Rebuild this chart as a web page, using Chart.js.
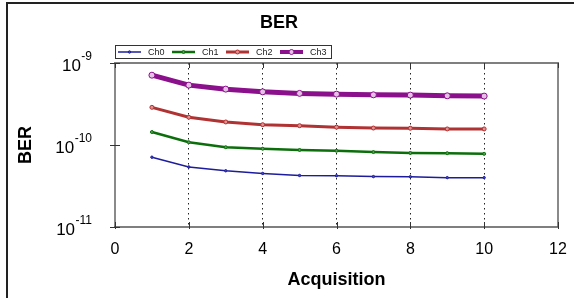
<!DOCTYPE html>
<html>
<head>
<meta charset="utf-8">
<script src="https://cdn.jsdelivr.net/npm/chart.js@4/dist/chart.umd.min.js"></script>
<style>
  html, body { margin: 0; padding: 0; background: #fff; }
  #wrap { width: 574px; height: 298px; position: relative; }
</style>
</head>
<body>
<div id="wrap"><canvas id="berChart" width="574" height="298"></canvas></div>
<script>
// valeurs
const acquisitions = [1, 2, 3, 4, 5, 6, 7, 8, 9, 10];
const seriesNames = ['Ch0', 'Ch1', 'Ch2', 'Ch3'];
const ch0 = [7.1e-11, 5.4e-11, 4.85e-11, 4.5e-11, 4.25e-11, 4.22e-11, 4.12e-11, 4.1e-11, 4.0e-11, 4.0e-11];
const ch1 = [1.44e-10, 1.08e-10, 9.4e-11, 9.0e-11, 8.7e-11, 8.5e-11, 8.2e-11, 8.0e-11, 7.95e-11, 7.8e-11];
const ch2 = [2.88e-10, 2.18e-10, 1.91e-10, 1.77e-10, 1.72e-10, 1.65e-10, 1.61e-10, 1.6e-10, 1.57e-10, 1.57e-10];
const ch3 = [7.1e-10, 5.37e-10, 4.8e-10, 4.45e-10, 4.26e-10, 4.17e-10, 4.09e-10, 4.06e-10, 3.98e-10, 3.95e-10];
const yTickExponents = [-9, -10, -11];

const FONT = '"Liberation Sans", Arial, sans-serif';

// style de chaque courbe
const styles = [
    { color: '#1c1c9c', width: 1.5, radius: 1.2, fill: '#4a4ac0' },
    { color: '#0b6e0b', width: 2.5, radius: 1.5, fill: '#5aa05a' },
    { color: '#b03232', width: 3, radius: 2, fill: '#e09090' },
    { color: '#8b108b', width: 5, radius: 3, fill: '#e6c0e6' }
];

function toPoints(values) {
    return values.map((v, i) => ({ x: acquisitions[i], y: v }));
}

const allSeries = [ch0, ch1, ch2, ch3];

// cadre, graduations, étiquettes 10^n et légende
const decorPlugin = {
    id: 'decor',
    afterDraw(chart) {
        const ctx = chart.ctx;
        const a = chart.chartArea;
        const xs = chart.scales.x;
        const ys = chart.scales.y;
        ctx.save();

        // cadre extérieur
        ctx.strokeStyle = '#222';
        ctx.lineWidth = 2;
        ctx.beginPath();
        ctx.moveTo(7, 298);
        ctx.lineTo(7, 3);
        ctx.lineTo(574, 3);
        ctx.stroke();

        // cadre de la zone de tracé
        ctx.lineWidth = 2;
        ctx.strokeStyle = '#8a8a8a';
        ctx.beginPath();
        ctx.moveTo(a.left, a.top); ctx.lineTo(a.left, a.bottom);
        ctx.moveTo(a.right, a.top); ctx.lineTo(a.right, a.bottom);
        ctx.stroke();
        ctx.strokeStyle = '#555';
        ctx.lineWidth = 1.5;
        ctx.beginPath();
        ctx.moveTo(a.left - 1, a.top); ctx.lineTo(a.right + 1, a.top);
        ctx.moveTo(a.left - 1, a.bottom); ctx.lineTo(a.right + 1, a.bottom);
        ctx.stroke();

        // petites graduations
        ctx.strokeStyle = '#333';
        ctx.lineWidth = 1;
        ctx.beginPath();
        xs.ticks.forEach(t => {
            const px = Math.round(xs.getPixelForValue(t.value)) + 0.5;
            ctx.moveTo(px, a.bottom - 5); ctx.lineTo(px, a.bottom + 2);
            ctx.moveTo(px, a.top); ctx.lineTo(px, a.top + 5);
        });
        yTickExponents.forEach(e => {
            const py = Math.round(ys.getPixelForValue(Math.pow(10, e))) + 0.5;
            ctx.moveTo(a.left - 5, py); ctx.lineTo(a.left + 5, py);
        });
        ctx.stroke();

        // étiquettes 10^n
        ctx.fillStyle = '#000';
        ctx.textAlign = 'right';
        ctx.textBaseline = 'middle';
        yTickExponents.forEach(e => {
            const py = ys.getPixelForValue(Math.pow(10, e));
            const right = 92;
            ctx.font = '12px ' + FONT;
            const expText = String(e);
            const expW = ctx.measureText(expText).width;
            ctx.fillText(expText, right, py - 6);
            ctx.font = '17px ' + FONT;
            ctx.fillText('10', right - expW - 0.5, py + 3);
        });

        // légende
        const lx = 115, ly = 45, lw = 216, lh = 13;
        ctx.fillStyle = '#fff';
        ctx.fillRect(lx, ly, lw, lh);
        ctx.strokeStyle = '#333';
        ctx.lineWidth = 1;
        ctx.strokeRect(lx + 0.5, ly + 0.5, lw, lh);
        const cy = ly + 7;
        seriesNames.forEach((name, i) => {
            const s = styles[i];
            const x0 = 118 + i * 54;
            ctx.strokeStyle = s.color;
            ctx.lineWidth = Math.min(s.width, 4);
            ctx.beginPath();
            ctx.moveTo(x0, cy); ctx.lineTo(x0 + 23, cy);
            ctx.stroke();
            ctx.fillStyle = s.fill;
            ctx.strokeStyle = s.color;
            ctx.lineWidth = 1;
            ctx.beginPath();
            ctx.arc(x0 + 11.5, cy, Math.min(s.radius, 2.5), 0, Math.PI * 2);
            ctx.fill();
            ctx.stroke();
            ctx.fillStyle = '#222';
            ctx.font = '9px ' + FONT;
            ctx.textAlign = 'left';
            ctx.fillText(name, x0 + 30, cy + 0.5);
        });
        ctx.restore();
    }
};

new Chart(document.getElementById('berChart').getContext('2d'), {
    type: 'line',
    data: {
        datasets: allSeries.map((vals, i) => ({
            label: seriesNames[i],
            data: toPoints(vals),
            borderColor: styles[i].color,
            borderWidth: styles[i].width,
            pointRadius: styles[i].radius,
            pointBackgroundColor: styles[i].fill,
            pointBorderColor: styles[i].color,
            pointBorderWidth: 1,
            tension: 0,
            fill: false
        }))
    },
    options: {
        responsive: false,
        animation: false,
        layout: { padding: { left: 0, right: 16, top: 0, bottom: 0 } },
        plugins: {
            legend: { display: false },
            tooltip: { enabled: false },
            title: {
                display: true,
                text: 'BER',
                color: '#000',
                font: { family: FONT, size: 18, weight: 'bold' },
                padding: { top: 12, bottom: 29.4 }
            }
        },
        scales: {
            x: {
                type: 'linear',
                min: 0,
                max: 12,
                afterFit: s => { s.height = 71; s.paddingRight = 0; s.paddingLeft = 0; },
                ticks: {
                    stepSize: 2,
                    color: '#000',
                    padding: 13,
                    font: { family: FONT, size: 16 }
                },
                grid: {
                    drawTicks: false,
                    lineWidth: 1,
                    color: c => (c.tick && c.tick.value > 0 && c.tick.value < 12) ? '#222' : 'rgba(0,0,0,0)'
                },
                border: { display: false, dash: [1.5, 3.5] },
                title: {
                    display: true,
                    text: 'Acquisition',
                    color: '#000',
                    font: { family: FONT, size: 18, weight: 'bold' },
                    padding: { top: 0, bottom: 7 }
                }
            },
            y: {
                type: 'logarithmic',
                min: 1e-11,
                max: 1e-9,
                afterFit: s => { s.width = 115; },
                ticks: { display: false },
                grid: { display: false, drawTicks: false },
                border: { display: false },
                title: {
                    display: true,
                    text: 'BER',
                    color: '#000',
                    font: { family: FONT, size: 18, weight: 'bold' },
                    padding: { top: 15, bottom: 0 }
                }
            }
        }
    },
    plugins: [decorPlugin]
});
</script>
</body>
</html>
